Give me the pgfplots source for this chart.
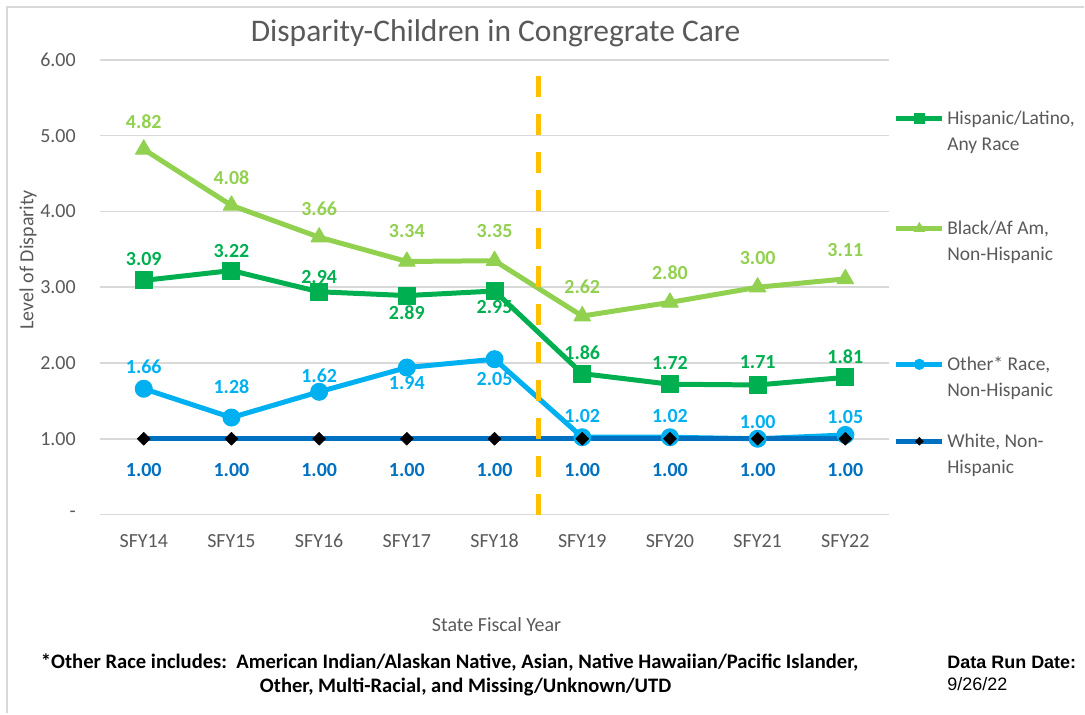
\documentclass[border=0pt]{standalone}
\usepackage{pgfplots}
\pgfplotsset{compat=1.18}
\usepackage{pgfplotstable}
\usepackage{fontspec}
\setmainfont{Carlito}
\newfontfamily\arialfont{Liberation Sans}

\definecolor{hisp}{HTML}{00B050}
\definecolor{blk}{HTML}{92D050}
\definecolor{oth}{HTML}{00B0F0}
\definecolor{wht}{HTML}{0070C0}
\definecolor{orangeline}{HTML}{FFC000}
\definecolor{gridgray}{HTML}{D9D9D9}
\definecolor{textgray}{HTML}{595959}

% x = year index (SFY14 = 0), y = disparity, off = label offset in pt
\pgfplotstableread{
x y off
0 3.09 21
1 3.22 20
2 2.94 15
3 2.89 -17
4 2.95 -16
5 1.86 21
6 1.72 21
7 1.71 23
8 1.81 21
}\hisptab
\pgfplotstableread{
x y off
0 4.82 28
1 4.08 28
2 3.66 29
3 3.34 30
4 3.35 30
5 2.62 29
6 2.80 30
7 3.00 29
8 3.11 29
}\blktab
\pgfplotstableread{
x y off
0 1.66 22
1 1.28 31
2 1.62 16
3 1.94 -15
4 2.05 -20
5 1.02 21
6 1.02 21
7 1.00 17
8 1.05 18
}\othtab
\pgfplotstableread{
x y off
0 1.00 -31
1 1.00 -31
2 1.00 -31
3 1.00 -31
4 1.00 -31
5 1.00 -31
6 1.00 -31
7 1.00 -31
8 1.00 -31
}\whttab

% line styles shared by the plot and its legend entry
\pgfplotsset{
  hispline/.style={hisp, line width=5pt, mark=square*, mark size=8.5pt, mark options={line width=1pt}},
  blkline/.style={blk, line width=5pt, mark=triangle*, mark size=9.5pt, mark options={line width=1pt}},
  othline/.style={oth, line width=5pt, mark=*, mark size=8.5pt, mark options={line width=1pt}},
  whtline/.style={wht, line width=5pt, mark=square*, mark size=4.6pt,
    mark options={rotate=45, fill=black, draw=black, line width=0.5pt}},
  % one small hidden axis per legend entry, so the entries can sit at uneven heights
  legbox/.style={
    at={(894.5pt,#1pt)}, anchor=south west,
    scale only axis, width=1pt, height=1pt, hide axis,
    xmin=0, xmax=1, ymin=0, ymax=1,
    legend image code/.code={
      \draw[mark repeat=2, mark phase=2, ##1, /tikz/every mark/.append style={scale=0.6}]
        plot coordinates {(0pt,6pt) (23pt,6pt) (46pt,6pt)};
    },
    legend style={
      at={(axis description cs:0,0)}, anchor=north west,
      draw=none, fill=none, inner sep=0pt,
      font=\fontsize{19.5}{26}\selectfont, text=textgray,
      nodes={inner xsep=2.5pt, inner ysep=0pt},
      cells={anchor=base west},
    },
  },
}

\begin{document}
\begin{tikzpicture}[x=1pt,y=1pt]
\path (0,0) rectangle (1085,714);
\draw[gridgray, line width=2pt] (7,0) -- (7,707) -- (1085,707);

\begin{axis}[
  at={(100pt,199pt)}, anchor=south west,
  scale only axis, width=790pt, height=455pt,
  xmin=-0.5, xmax=8.5, ymin=0, ymax=6,
  xtick={0,...,8},
  xticklabels={SFY14,SFY15,SFY16,SFY17,SFY18,SFY19,SFY20,SFY21,SFY22},
  ytick={0,...,6},
  yticklabels={-\hspace{12pt},1.00,2.00,3.00,4.00,5.00,6.00},
  axis line style={draw=none},
  major tick length=0pt,
  ymajorgrids,
  grid style={draw=gridgray, line width=1.5pt},
  tick label style={font=\fontsize{20}{24}\selectfont, text=textgray},
  yticklabel style={anchor=east, inner sep=0pt, xshift=-24pt},
  xticklabel style={anchor=base, inner sep=0pt, yshift=-33pt},
  clip=false,
  line join=round,
  /pgf/number format/assume math mode=true,
  lbl/.style={
    nodes near coords={\pgfmathprintnumber[fixed,fixed zerofill,precision=2]{\pgfplotspointmeta}},
    point meta=y,
    visualization depends on={\thisrow{off}\as\off},
    every node near coord/.append style={anchor=center, inner sep=0pt,
      yshift=\off pt, font=\fontsize{20}{24}\selectfont\bfseries, text=#1},
  },
]
\addplot[hispline, lbl=hisp] table[x=x,y=y] {\hisptab};
\addplot[blkline, lbl=blk] table[x=x,y=y] {\blktab};
\addplot[othline, lbl=oth] table[x=x,y=y] {\othtab};
\addplot[whtline, lbl=wht] table[x=x,y=y] {\whttab};

% divider between SFY18 and SFY19
\addplot[orangeline, line width=5pt, dash pattern=on 21pt off 17pt]
  coordinates {(4.5,0) (4.5,5.8)};
\end{axis}

\begin{axis}[legbox=607.7]
\addlegendimage{hispline}
\addlegendentry{\begin{tabular}[t]{@{}l@{}}Hispanic/Latino,\\Any Race\end{tabular}}
\end{axis}
\begin{axis}[legbox=497.7]
\addlegendimage{blkline}
\addlegendentry{\begin{tabular}[t]{@{}l@{}}Black/Af Am,\\Non-Hispanic\end{tabular}}
\end{axis}
\begin{axis}[legbox=361.7]
\addlegendimage{othline}
\addlegendentry{\begin{tabular}[t]{@{}l@{}}Other* Race,\\Non-Hispanic\end{tabular}}
\end{axis}
\begin{axis}[legbox=284.7]
\addlegendimage{whtline}
\addlegendentry{\begin{tabular}[t]{@{}l@{}}White, Non-\\Hispanic\end{tabular}}
\end{axis}

\node[text=textgray, font=\fontsize{31.5}{38}\selectfont] at (496,681)
  {Disparity-Children in Congregrate Care};
\node[text=textgray, font=\fontsize{20}{24}\selectfont, rotate=90] at (28,454)
  {Level of Disparity};
\node[text=textgray, font=\fontsize{20}{24}\selectfont] at (497,89)
  {State Fiscal Year};
\node[font=\fontsize{20.6}{25}\selectfont\bfseries] at (450,51)
  {*Other Race includes:\ \ American Indian/Alaskan Native, Asian, Native Hawaiian/Pacific Islander,};
\node[font=\fontsize{20.6}{25}\selectfont\bfseries] at (466,26)
  {Other, Multi-Racial, and Missing/Unknown/UTD};
\node[anchor=west, inner sep=0pt, font=\arialfont\fontsize{18}{22}\selectfont\bfseries] at (948,51)
  {Data Run Date:};
\node[anchor=west, inner sep=0pt, font=\arialfont\fontsize{18}{22}\selectfont] at (948,29)
  {9/26/22};
\end{tikzpicture}
\end{document}
